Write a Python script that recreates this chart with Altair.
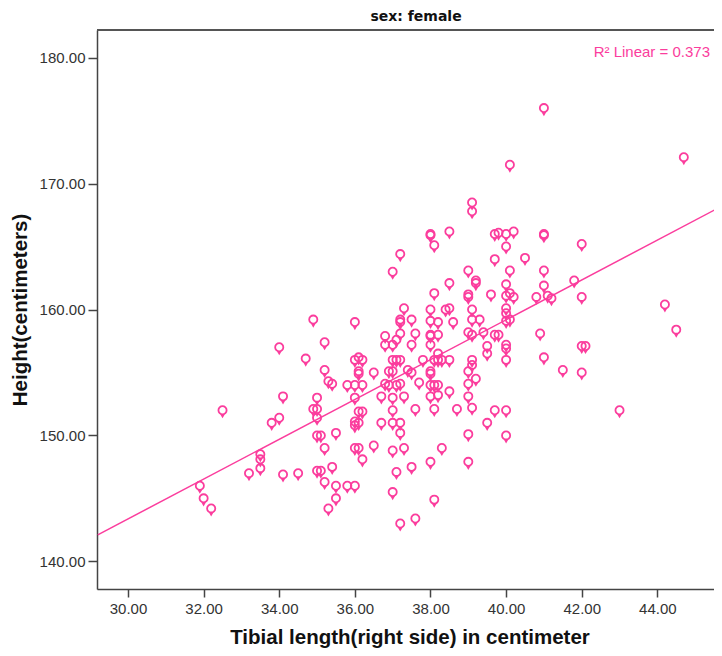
import altair as alt
import pandas as pd

# ---- data ----
tibia = [31.9, 32.0, 32.2, 32.5, 33.2, 33.5, 33.5, 33.5, 33.8, 34.0,
         34.1, 34.0, 34.1, 34.5, 34.7, 34.9, 35.2, 35.2, 35.3, 35.4,
         35.0, 34.9, 35.0, 35.0, 35.0, 35.1, 35.5, 35.2, 35.4, 35.0,
         35.1, 35.2, 35.5, 35.5, 35.3, 35.8, 36.0, 36.2, 36.0, 36.0,
         36.1, 36.2, 36.1, 36.1, 36.0, 36.1, 36.2, 36.0, 36.1, 36.0,
         36.0, 36.1, 36.2, 35.8, 36.0, 36.5, 36.5, 36.7, 36.7, 36.8,
         36.8, 37.0, 37.1, 37.2, 37.2, 37.2, 37.3, 37.2, 37.0, 36.9,
         37.0, 36.8, 36.9, 37.1, 37.2, 37.0, 37.1, 37.2, 37.0, 37.3,
         37.0, 37.0, 37.2, 37.2, 37.0, 37.3, 37.1, 37.0, 37.2, 37.4,
         37.5, 37.5, 37.5, 37.6, 37.5, 37.6, 37.6, 37.7, 37.8, 38.0,
         38.0, 38.0, 38.0, 38.0, 38.0, 38.0, 38.0, 38.0, 38.0, 38.0,
         38.0, 38.1, 38.1, 38.1, 38.1, 38.1, 38.1, 38.2, 38.2, 38.2,
         38.2, 38.2, 38.2, 38.3, 38.3, 38.4, 38.5, 38.5, 38.5, 38.5,
         38.5, 38.6, 38.7, 39.1, 39.1, 39.0, 39.2, 39.2, 39.0, 39.0,
         39.1, 39.1, 39.3, 39.0, 39.1, 39.4, 39.1, 39.1, 39.0, 39.2,
         39.0, 39.0, 39.1, 39.0, 39.0, 39.5, 39.5, 39.5, 39.6, 39.7,
         39.8, 39.7, 39.7, 39.8, 39.7, 40.0, 40.2, 40.0, 40.1, 40.1,
         40.5, 40.0, 40.0, 40.1, 40.2, 40.0, 40.0, 40.0, 40.1, 40.0,
         40.0, 40.0, 40.0, 40.0, 40.8, 40.9, 41.0, 41.0, 41.0, 41.0,
         41.0, 41.1, 41.2, 41.0, 41.5, 41.8, 42.0, 42.0, 42.0, 42.1,
         42.0, 43.0, 44.2, 44.5, 44.7]

height = [146.0, 145.0, 144.2, 152.0, 147.0, 148.5, 148.1, 147.4, 151.0, 151.4,
          153.1, 157.0, 146.9, 147.0, 156.1, 159.2, 157.4, 155.2, 154.3, 154.1,
          153.0, 152.1, 152.1, 151.4, 150.0, 150.0, 150.2, 149.0, 147.5, 147.2,
          147.2, 146.3, 146.0, 145.0, 144.2, 154.0, 154.0, 154.0, 159.0, 156.0,
          156.2, 156.0, 155.1, 154.9, 153.0, 151.9, 151.9, 151.1, 151.0, 150.8,
          149.0, 149.0, 148.1, 146.0, 146.0, 155.0, 149.2, 153.1, 151.0, 157.9,
          157.2, 157.2, 157.6, 158.1, 159.2, 159.0, 160.1, 164.4, 163.0, 155.1,
          155.1, 154.1, 154.0, 154.0, 154.1, 156.0, 156.0, 156.0, 153.0, 153.1,
          152.0, 151.0, 151.0, 150.2, 148.8, 149.0, 147.1, 145.5, 143.0, 155.2,
          155.0, 147.5, 159.2, 158.1, 157.2, 152.1, 143.4, 154.2, 156.0, 166.0,
          165.9, 160.0, 159.1, 158.0, 157.9, 157.2, 155.1, 154.9, 154.0, 153.1,
          147.9, 165.1, 161.3, 156.0, 154.0, 152.1, 144.9, 159.0, 158.0, 156.5,
          156.0, 154.0, 153.2, 156.0, 149.0, 160.0, 166.2, 162.1, 160.1, 156.0,
          153.5, 159.0, 152.1, 168.5, 167.8, 163.1, 162.3, 162.1, 161.2, 161.0,
          160.0, 159.2, 159.2, 158.2, 158.0, 158.2, 156.0, 155.6, 155.1, 154.5,
          154.1, 153.1, 152.2, 150.1, 147.9, 157.1, 156.5, 151.0, 161.2, 166.0,
          166.1, 164.0, 158.0, 158.0, 152.0, 166.0, 166.2, 165.0, 171.5, 163.1,
          164.1, 162.0, 161.1, 161.3, 161.0, 160.1, 159.7, 159.1, 159.2, 157.2,
          156.9, 156.0, 152.0, 150.0, 161.0, 158.1, 176.0, 166.0, 165.9, 163.1,
          161.9, 161.1, 160.9, 156.2, 155.2, 162.3, 165.2, 161.0, 157.1, 157.1,
          155.0, 152.0, 160.4, 158.4, 172.1]

# fit line end points
fit_x = [29.2, 45.7]
fit_y = [142.1, 168.2]

x_ticks = [30, 32, 34, 36, 38, 40, 42, 44]
y_ticks = [140, 150, 160, 170, 180]
r2_label = ["R\u00b2 Linear = 0.373"]
panel_title = ["sex: female"]

PINK = "#fb3d9d"
AX = "#444444"

df = pd.DataFrame({"tibia": tibia, "height": height})
fit = pd.DataFrame({"tibia": fit_x, "height": fit_y})

xs = alt.Scale(domain=[29.18, 45.71], nice=False, zero=False)
ys = alt.Scale(domain=[137.8, 182.2], nice=False, zero=False)

x_axis = alt.Axis(
    title="Tibial length(right side) in centimeter", values=x_ticks, format=".2f",
    grid=False, tickSize=8, tickWidth=1.5, tickColor=AX, domainColor=AX, domainWidth=1.5,
    labelFont="Liberation Sans", labelFontSize=15, labelColor="#333333", labelPadding=4,
    titleFont="Liberation Sans", titleFontSize=20.5, titleFontWeight="bold", titleColor="#111111",
    titleBaseline="alphabetic", titleY=54,
)
y_axis = alt.Axis(
    title="Height(centimeters)", values=y_ticks, format=".2f",
    grid=False, tickSize=9, tickWidth=1.5, tickColor=AX, domainColor=AX, domainWidth=1.5,
    labelFont="Liberation Sans", labelFontSize=15, labelColor="#333333", labelPadding=3,
    titleFont="Liberation Sans", titleFontSize=20.5, titleFontWeight="bold", titleColor="#111111",
    titleBaseline="middle", titleX=-77,
)

CIRCLE = "M0,-0.48A0.48,0.48,0,1,1,0,0.48A0.48,0.48,0,1,1,0,-0.48Z"
TAIL = "M-0.28,0.46L0.28,0.46L0,0.95Z"

base = alt.Chart(df)
circles = base.mark_point(shape=CIRCLE, filled=False, size=289, strokeWidth=1.8,
                          color=PINK, opacity=1).encode(
    x=alt.X("tibia:Q", scale=xs, axis=x_axis),
    y=alt.Y("height:Q", scale=ys, axis=y_axis),
)
tails = base.mark_point(shape=TAIL, filled=True, size=289, strokeWidth=0,
                        color=PINK, opacity=1).encode(
    x=alt.X("tibia:Q", scale=xs),
    y=alt.Y("height:Q", scale=ys),
)
line = alt.Chart(fit).mark_line(color=PINK, strokeWidth=1.5, clip=True).encode(
    x=alt.X("tibia:Q", scale=xs),
    y=alt.Y("height:Q", scale=ys),
)
r2 = alt.Chart(pd.DataFrame({"t": r2_label})).mark_text(
    align="right", baseline="middle", font="Liberation Sans", fontSize=15, color=PINK
).encode(x=alt.value(613), y=alt.value(22), text="t:N")

title_txt = alt.Chart(pd.DataFrame({"t": panel_title})).mark_text(
    align="center", baseline="middle", font="DejaVu Sans", fontSize=14,
    fontWeight="bold", color="#111111"
).encode(x=alt.value(319), y=alt.value(-13), text="t:N")

top_border = alt.Chart(pd.DataFrame({"t": panel_title})).mark_rule(
    color="#555555", strokeWidth=2
).encode(x=alt.value(0), x2=alt.value(625), y=alt.value(0))

chart = alt.layer(line, circles, tails, r2, title_txt, top_border).properties(
    width=625, height=559,
    padding={"left": 89, "top": 22, "right": -8, "bottom": 59},
    autosize=alt.AutoSizeParams(type="none"),
).configure_view(fill="#efefef", stroke="#555555", strokeWidth=1.5
).configure(background="white")

chart.save("out.html", embed_options={"renderer": "svg", "actions": False})
